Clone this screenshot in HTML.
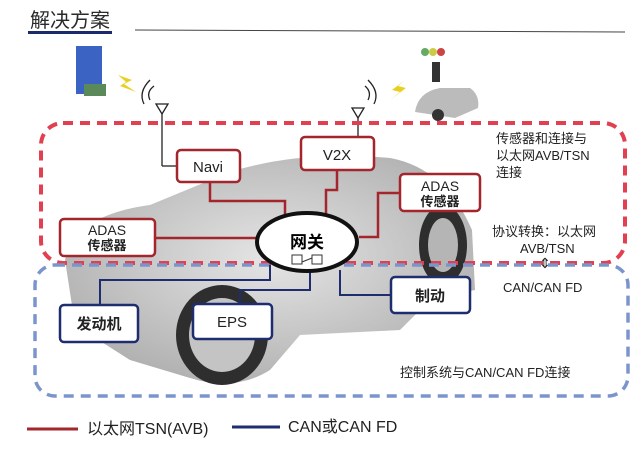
<!DOCTYPE html>
<html><head><meta charset="utf-8"><style>
body{margin:0;background:#fff;}
svg{display:block;font-family:"Liberation Sans","Noto Sans CJK SC",sans-serif;}
</style></head><body>
<svg width="640" height="467" viewBox="0 0 640 467" xmlns="http://www.w3.org/2000/svg">
<defs>
<radialGradient id="cg" cx="0.5" cy="0.45" r="0.6"><stop offset="0" stop-color="#e2e2e2"/><stop offset="1" stop-color="#a5a5a5"/></radialGradient>
</defs>
<rect width="640" height="467" fill="#fff"/>
<text x="30" y="27" font-size="20" fill="#2a2a2a">解决方案</text>
<rect x="28" y="31" width="84" height="3" fill="#1a2a6a"/>
<line x1="135" y1="30" x2="625" y2="32" stroke="#444" stroke-width="1"/>
<!-- car body -->
<path d="M65 260 Q75 215 150 205 L230 172 Q300 150 390 158 Q445 168 472 230 L475 290 L430 300 L400 330 L300 335 L270 370 Q235 392 190 378 L130 360 L75 325 Z" fill="url(#cg)" opacity="0.9"/>
<ellipse cx="222" cy="335" rx="46" ry="50" fill="#2e2e2e"/>
<ellipse cx="222" cy="335" rx="33" ry="37" fill="#c4c4c4"/>
<ellipse cx="443" cy="245" rx="24" ry="40" fill="#2e2e2e"/>
<ellipse cx="443" cy="245" rx="15" ry="27" fill="#b5b5b5"/>
<!-- building, traffic, small car -->
<rect x="76" y="46" width="26" height="48" fill="#3b63c4"/>
<rect x="84" y="84" width="22" height="12" fill="#5a8a5a"/>
<polygon points="118,75 132,80 124,84 136,92 120,86 126,82" fill="#e8d020"/>
<polygon points="405,80 392,90 400,92 390,100 406,88 398,86" fill="#e8d020"/>
<circle cx="425" cy="52" r="4" fill="#6a6"/><circle cx="433" cy="52" r="4" fill="#cc4"/><circle cx="441" cy="52" r="4" fill="#c44"/>
<rect x="432" y="62" width="8" height="20" fill="#333"/>
<path d="M415 112 Q418 92 440 88 L470 88 Q480 95 478 108 L455 118 Z" fill="#bbb"/>
<circle cx="438" cy="115" r="6" fill="#333"/>
<!-- antennas -->
<g fill="none" stroke="#222" stroke-width="1.3">
<polygon points="156,104 168,104 162,114"/><line x1="162" y1="114" x2="162" y2="166"/><line x1="162" y1="166" x2="178" y2="166"/>
<path d="M150 100 Q146 92 154 86 M144 104 Q138 92 150 80"/>
<polygon points="352,108 364,108 358,118"/><line x1="358" y1="118" x2="358" y2="137"/>
<path d="M368 100 Q372 92 365 86 M374 104 Q380 92 368 80"/>
</g>
<!-- dashed regions -->
<rect x="41" y="123" width="584" height="140" rx="22" fill="none" stroke="#e04050" stroke-width="4" stroke-dasharray="10,7"/>
<rect x="35" y="265" width="593" height="131" rx="20" fill="none" stroke="#7b95cc" stroke-width="3.5" stroke-dasharray="10,7"/>
<!-- red connectors -->
<g fill="none" stroke="#a3262d" stroke-width="2.5">
<polyline points="210,182 210,201 285,201 285,225"/>
<polyline points="337,170 337,190 326,190 326,216"/>
<polyline points="400,193 378,193 378,237 359,237"/>
<line x1="155" y1="238" x2="257" y2="238"/>
</g>
<!-- navy connectors -->
<g fill="none" stroke="#1d2d6e" stroke-width="2">
<polyline points="100,305 100,280 270,280 270,265"/>
<polyline points="240,304 240,290 310,290 310,272"/>
<polyline points="391,295 340,295 340,270"/>
</g>
<!-- gateway -->
<ellipse cx="307" cy="242" rx="50" ry="29" fill="#fff" stroke="#111" stroke-width="4"/>
<text x="307" y="248" font-size="17" font-weight="bold" text-anchor="middle">网关</text>
<g stroke="#333" stroke-width="1" fill="none"><rect x="292" y="255" width="10" height="9"/><rect x="312" y="255" width="10" height="9"/><line x1="302" y1="262" x2="312" y2="258"/></g>
<!-- boxes -->
<g fill="#fff" stroke="#a3262d" stroke-width="2.5">
<rect x="177" y="150" width="63" height="32" rx="4"/>
<rect x="301" y="137" width="73" height="33" rx="4"/>
<rect x="400" y="174" width="80" height="37" rx="4"/>
<rect x="60" y="219" width="95" height="37" rx="4"/>
</g>
<g fill="#fff" stroke="#1d2d6e" stroke-width="2.5">
<rect x="391" y="277" width="79" height="36" rx="4"/>
<rect x="60" y="305" width="78" height="37" rx="4"/>
<rect x="193" y="304" width="79" height="35" rx="4"/>
</g>
<g font-size="15" fill="#222" text-anchor="middle">
<text x="208" y="172">Navi</text>
<text x="337" y="160">V2X</text>
<text x="440" y="191" font-size="14">ADAS</text>
<text x="440" y="206" font-size="13" font-weight="bold">传感器</text>
<text x="107" y="235" font-size="14">ADAS</text>
<text x="107" y="250" font-size="13" font-weight="bold">传感器</text>
<text x="430" y="301" font-weight="bold">制动</text>
<text x="99" y="329" font-weight="bold">发动机</text>
<text x="232" y="327">EPS</text>
</g>
<g font-size="13" fill="#222">
<text x="496" y="143">传感器和连接与</text>
<text x="496" y="160">以太网AVB/TSN</text>
<text x="496" y="177">连接</text>
<text x="492" y="236">协议转换：以太网</text>
<text x="520" y="253">AVB/TSN</text>
<text x="503" y="292">CAN/CAN FD</text>
<text x="400" y="377">控制系统与CAN/CAN FD连接</text>
</g>
<text x="545" y="268" font-size="14" text-anchor="middle" fill="#222">⇕</text>
<line x1="27" y1="429" x2="78" y2="429" stroke="#a3262d" stroke-width="3"/>
<text x="87" y="434" font-size="16" fill="#222">以太网TSN(AVB)</text>
<line x1="232" y1="427" x2="280" y2="427" stroke="#1d2d6e" stroke-width="3"/>
<text x="288" y="432" font-size="16" fill="#222">CAN或CAN FD</text>
</svg>
</body></html>
